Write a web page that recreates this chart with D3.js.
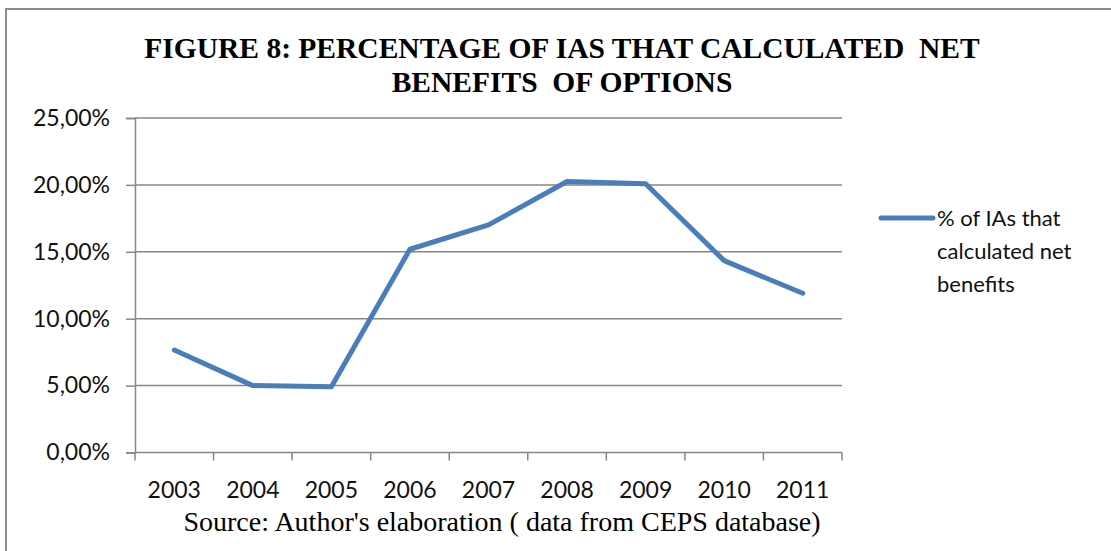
<!DOCTYPE html>
<html>
<head>
<meta charset="utf-8">
<script src="https://cdn.jsdelivr.net/npm/d3@7"></script>
<style>
  html, body { margin: 0; padding: 0; background: #fff; }
  svg { display: block; }
</style>
</head>
<body>
<svg id="chart" width="1111" height="551"></svg>
<script>
// Share of impact assessments that calculated net benefits, per year
const years = ["2003", "2004", "2005", "2006", "2007", "2008", "2009", "2010", "2011"];
const shareNetBenefits = [0.0766, 0.0500, 0.0491, 0.1519, 0.1701, 0.2025, 0.2008, 0.1434, 0.1190];
const yTicks = [0, 0.05, 0.10, 0.15, 0.20, 0.25];
const titleLines = ["FIGURE 8: PERCENTAGE OF IAS THAT CALCULATED  NET", "BENEFITS  OF OPTIONS"];
const legendLines = ["% of IAs that", "calculated net", "benefits"];
const sourceNote = "Source: Author's elaboration ( data from CEPS database)";

const svg = d3.select("#chart");
const W = 1111, H = 551;
const plot = { left: 135, right: 842, top: 118, bottom: 452.5 };
const axisColor = "#868686";
const lineColor = "#4a7ebb";
const sansFont = "Lato, 'Open Sans', sans-serif";
const serifFont = "'Liberation Serif', 'Times New Roman', serif";

// outer frame
svg.append("rect")
  .attr("x", 6).attr("y", 9)
  .attr("width", W + 10).attr("height", H + 10)
  .attr("fill", "none").attr("stroke", "#8c8c8c").attr("stroke-width", 2);

const x = d3.scaleBand().domain(years).range([plot.left, plot.right]).paddingInner(0).paddingOuter(0);
const y = d3.scaleLinear().domain([0, 0.25]).range([plot.bottom, plot.top]);

// horizontal gridlines
svg.append("g")
  .selectAll("line")
  .data(yTicks.filter(t => t > 0))
  .join("line")
  .attr("x1", plot.left).attr("x2", plot.right)
  .attr("y1", d => y(d)).attr("y2", d => y(d))
  .attr("stroke", axisColor).attr("stroke-width", 1.5);

// y axis
const fmtPct = d => (d * 100).toFixed(2).replace(".", ",") + "%";
const yAxis = svg.append("g")
  .attr("transform", `translate(${plot.left},0)`)
  .call(d3.axisLeft(y).tickValues(yTicks).tickFormat(fmtPct).tickSize(9).tickPadding(16));
yAxis.select(".domain").attr("stroke", axisColor).attr("stroke-width", 1.5);
yAxis.selectAll(".tick line").attr("stroke", axisColor).attr("stroke-width", 1.5);
yAxis.selectAll(".tick text")
  .attr("fill", "#111").style("font-family", sansFont).style("font-size", "23px");

// x axis (ticks at category boundaries)
const xAxisG = svg.append("g").attr("transform", `translate(0,${plot.bottom})`);
xAxisG.append("line")
  .attr("x1", plot.left).attr("x2", plot.right)
  .attr("stroke", axisColor).attr("stroke-width", 1.5);
const boundaries = years.map(d => x(d)).concat([x(years[years.length - 1]) + x.bandwidth()]);
xAxisG.selectAll("line.tk")
  .data(boundaries)
  .join("line").attr("class", "tk")
  .attr("x1", d => d).attr("x2", d => d)
  .attr("y1", 0).attr("y2", 8)
  .attr("stroke", axisColor).attr("stroke-width", 1.5);
xAxisG.selectAll("text")
  .data(years)
  .join("text")
  .attr("x", d => x(d) + x.bandwidth() / 2)
  .attr("y", 45)
  .attr("text-anchor", "middle")
  .attr("fill", "#111")
  .style("font-family", sansFont).style("font-size", "23px")
  .text(d => d);

// data line
const line = d3.line()
  .x((d, i) => x(years[i]) + x.bandwidth() / 2)
  .y(d => y(d));
svg.append("path")
  .datum(shareNetBenefits)
  .attr("d", line)
  .attr("fill", "none")
  .attr("stroke", lineColor)
  .attr("stroke-width", 5)
  .attr("stroke-linejoin", "round")
  .attr("stroke-linecap", "round");

// title
svg.append("g")
  .selectAll("text")
  .data(titleLines)
  .join("text")
  .attr("x", 562)
  .attr("y", (d, i) => 58 + i * 34)
  .attr("text-anchor", "middle")
  .attr("fill", "#000")
  .style("font-family", serifFont).style("font-weight", "bold").style("font-size", "29.5px")
  .style("white-space", "pre")
  .text(d => d);

// legend
const lg = svg.append("g");
lg.append("line")
  .attr("x1", 881).attr("x2", 933).attr("y1", 218).attr("y2", 218)
  .attr("stroke", lineColor).attr("stroke-width", 5).attr("stroke-linecap", "round");
lg.selectAll("text")
  .data(legendLines)
  .join("text")
  .attr("x", 937)
  .attr("y", (d, i) => 226 + i * 33)
  .attr("fill", "#111")
  .style("font-family", sansFont).style("font-size", "22px")
  .text(d => d);

// source note
svg.append("text")
  .attr("x", 502).attr("y", 531)
  .attr("text-anchor", "middle")
  .attr("fill", "#000")
  .style("font-family", serifFont).style("font-size", "28px")
  .text(sourceNote);
</script>
</body>
</html>
